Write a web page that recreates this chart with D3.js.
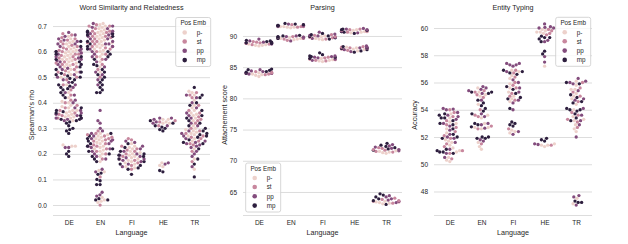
<!DOCTYPE html>
<html>
<head>
<meta charset="utf-8">
<script src="https://cdn.jsdelivr.net/npm/d3@7"></script>
<style>
body { margin: 0; background: #fff; }
svg { display: block; font-family: "Liberation Sans", Arial, sans-serif; }
</style>
</head>
<body>
<script>
// categories
const languages = ["DE", "EN", "FI", "HE", "TR"];
const posEmb = ["p-", "st", "pp", "mp"];

// word similarity (spearman's rho), one array per language / pos emb
const ws_DE_p = [.23,.23,.235,.33,.34,.345,.35,.355,.36,.365,.37,.38,.385,.39,.40,.405,.42,.44,.47,.50,.51,.52,.53,.54,.545,.55,.555,.56,.565,.57,.575,.58,.585,.59,.595,.60,.605,.61,.615,.62,.63,.635,.64,.65,.66,.52,.57,.6,.345,.37];
const ws_DE_st = [.34,.35,.36,.37,.38,.39,.40,.41,.43,.45,.47,.49,.50,.51,.52,.525,.53,.54,.55,.555,.56,.57,.575,.58,.585,.59,.595,.60,.605,.61,.615,.62,.625,.63,.64,.645,.65,.655,.665,.67,.55,.59,.355];
const ws_DE_pp = [.225,.225,.33,.335,.34,.35,.355,.36,.37,.38,.40,.41,.43,.44,.46,.47,.48,.49,.50,.51,.52,.53,.54,.55,.56,.565,.57,.58,.59,.595,.60,.605,.61,.62,.63,.63,.64,.645,.65,.66,.665,.675,.535,.575,.34];
const ws_DE_mp = [.19,.20,.21,.28,.29,.295,.30,.31,.32,.325,.33,.335,.34,.35,.36,.37,.38,.42,.43,.44,.45,.455,.46,.465,.47,.48,.49,.495,.50,.505,.51,.52,.53,.54,.55,.56,.57,.58,.59,.60,.62,.64,.515,.335,.365];
const ws_EN_p = [.01,.015,.02,.03,.13,.135,.17,.19,.20,.21,.215,.22,.225,.23,.24,.245,.25,.255,.26,.265,.27,.275,.28,.52,.54,.56,.58,.59,.60,.605,.61,.615,.62,.625,.63,.635,.64,.645,.65,.655,.66,.665,.67,.675,.68,.685,.69,.695,.70,.705,.71];
const ws_EN_st = [0,.11,.18,.20,.21,.22,.23,.235,.24,.25,.255,.26,.265,.27,.275,.28,.29,.50,.53,.55,.57,.58,.59,.60,.61,.615,.62,.62,.63,.635,.64,.64,.65,.655,.66,.66,.67,.675,.68,.68,.69,.70,.70,.705];
const ws_EN_pp = [.035,.04,.05,.13,.14,.18,.19,.20,.21,.22,.225,.23,.24,.25,.255,.26,.27,.28,.29,.30,.32,.33,.37,.47,.49,.51,.52,.54,.56,.57,.58,.59,.60,.61,.62,.63,.63,.64,.65,.65,.66,.665,.67,.67,.68,.69,.695,.70,.71];
const ws_EN_mp = [.02,.02,.025,.08,.08,.095,.10,.12,.125,.17,.18,.19,.20,.21,.22,.23,.24,.25,.26,.27,.28,.44,.44,.45,.46,.47,.48,.49,.50,.51,.52,.53,.545,.55,.57,.58,.59,.60,.61,.62,.63,.64,.66,.665,.67,.675,.68];
const ws_FI_p = [.145,.15,.16,.165,.17,.175,.18,.185,.19,.195,.20,.205,.21,.22,.225,.23,.24];
const ws_FI_st = [.14,.155,.165,.175,.18,.19,.20,.21,.215,.22,.23,.255,.26];
const ws_FI_pp = [.15,.16,.17,.175,.18,.185,.19,.195,.20,.21,.22,.23,.245,.25];
const ws_FI_mp = [.12,.14,.145,.155,.16,.17,.18,.19,.195,.20,.21,.225,.24];
const ws_HE_p = [.15,.155,.165,.32,.32,.325,.33,.335,.335];
const ws_HE_st = [.31,.325,.33];
const ws_HE_pp = [.16,.165,.31,.32,.325,.335,.34,.34];
const ws_HE_mp = [.13,.135,.29,.295,.30,.305,.31,.32,.33];
const ws_TR_p = [.14,.18,.22,.25,.26,.27,.275,.28,.285,.29,.295,.30,.31,.33,.34,.35,.355,.36,.37,.38,.39,.41,.43,.44,.445];
const ws_TR_st = [.17,.21,.235,.24,.25,.26,.265,.27,.28,.29,.30,.32,.33,.335,.345,.36,.37,.39,.42,.43,.44];
const ws_TR_pp = [.15,.19,.20,.21,.225,.23,.235,.24,.245,.25,.26,.27,.28,.29,.31,.32,.34,.35,.36,.38,.40,.42,.43];
const ws_TR_mp = [.11,.16,.18,.22,.24,.245,.255,.265,.27,.275,.28,.29,.30,.31,.32,.33,.34,.35,.37,.39,.40,.42,.43,.46];

// parsing (attachement score)
const ps_DE_p = [88.4,88.5,88.5,88.6,88.7,88.8,83.5,83.7,83.8,83.9,84.0,84.1];
const ps_DE_st = [88.6,88.8,88.9,89.0,89.1,88.7,83.8,84.0,84.1,84.2,84.3,83.9];
const ps_DE_pp = [88.7,88.9,89.0,89.2,89.5,88.8,83.9,84.1,84.3,84.4,84.6,84.0];
const ps_DE_mp = [88.8,89.0,89.1,89.2,89.3,88.9,84.0,84.2,84.3,84.5,84.6,84.7];
const ps_EN_p = [91.3,91.4,91.5,91.5,91.6,91.4,89.4,89.5,89.6,89.6,89.7,89.8];
const ps_EN_st = [91.4,91.5,91.6,91.7,91.8,91.5,89.5,89.6,89.7,89.8,89.9,89.3];
const ps_EN_pp = [91.5,91.6,91.7,91.8,91.9,91.6,89.6,89.7,89.8,89.9,90.0,89.2];
const ps_EN_mp = [91.6,91.7,91.8,91.9,92.0,91.7,89.7,89.8,89.9,90.0,90.1,89.6];
const ps_FI_p = [89.4,89.5,89.6,89.8,89.9,90.0,85.9,86.0,86.1,86.2,86.3,86.4];
const ps_FI_st = [89.5,89.7,89.8,89.9,90.1,90.2,86.0,86.2,86.3,86.5,86.6,86.1];
const ps_FI_pp = [89.6,89.8,90.0,90.1,90.3,90.6,86.1,86.3,86.5,86.6,86.7,86.8];
const ps_FI_mp = [89.7,89.9,90.0,90.2,90.4,89.5,86.4,86.6,86.7,86.8,87.0,87.3];
const ps_HE_p = [90.5,90.6,90.7,90.8,90.9,91.0,87.6,87.8,87.9,88.0,88.1,88.2];
const ps_HE_st = [90.6,90.7,90.8,90.9,91.0,91.1,87.7,87.9,88.0,88.1,88.2,88.3];
const ps_HE_pp = [90.5,90.7,90.8,91.0,91.1,91.2,87.5,87.8,88.0,88.1,88.2,88.4];
const ps_HE_mp = [90.4,90.6,90.7,90.9,91.0,91.1,87.4,87.6,87.8,88.0,88.1,88.3];
const ps_TR_p = [71.2,71.3,71.4,71.5,71.6,71.8,63.1,63.2,63.3,63.4,63.5,63.6];
const ps_TR_st = [71.4,71.5,71.7,71.8,72.0,72.1,63.2,63.4,63.5,63.6,63.8,64.0];
const ps_TR_pp = [71.6,71.8,72.0,72.2,72.4,72.6,63.3,63.5,63.7,63.9,64.2,64.4];
const ps_TR_mp = [71.7,71.9,72.1,72.3,72.5,72.8,63.0,63.6,63.9,64.2,64.5,64.7];

// entity typing (accuracy)
const et_DE_p = [50.2,50.3,50.5,50.9,51.0,51.2,51.4,51.6,51.7,51.8,52.3,52.6,53.0,53.1,53.4,53.7];
const et_DE_st = [50.4,50.8,51.0,51.3,51.5,51.9,52.1,52.4,52.7,52.9,53.2,53.5,53.8,54.0];
const et_DE_pp = [50.5,50.8,51.1,51.6,51.9,52.0,52.2,52.5,52.8,53.0,53.3,53.5,53.6,53.8,54.0,54.05,54.1];
const et_DE_mp = [50.8,50.9,50.9,51.0,51.1,51.9,52.0,52.2,52.6,52.9,53.0,53.2,53.4,53.4,53.6,53.7];
const et_EN_p = [51.1,51.3,51.6,52.6,52.7,52.7,53.0,53.4,53.6,54.4,55.0,55.1,55.3,55.6];
const et_EN_st = [51.5,52.6,52.8,53.5,53.6,54.0,54.9,55.1,55.3,55.4];
const et_EN_pp = [51.7,51.8,52.65,52.9,53.0,53.5,53.7,54.7,55.2,55.4,55.5,55.6,55.7];
const et_EN_mp = [51.9,51.9,52.0,52.0,52.75,52.9,53.0,53.7,53.9,54.1,54.3,54.5,54.7,55.2,55.3,55.3];
const et_FI_p = [52.3,52.4,52.5,54.6,54.8,55.0,55.3,55.6,55.9,56.3,56.5,56.8,56.9];
const et_FI_st = [52.6,54.7,55.0,55.2,55.6,55.8,56.0,56.4,56.7,56.9];
const et_FI_pp = [52.2,52.4,54.0,54.5,54.7,55.3,55.6,56.0,56.2,56.8,57.2,57.3,57.3,57.4,57.4];
const et_FI_mp = [52.8,52.9,53.0,53.1,54.1,54.8,54.9,55.2,55.5,55.7,56.6,56.7,56.8,56.9];
const et_HE_p = [51.3,51.4,51.4,51.5,57.2,59.6,59.7,59.7,59.8,59.9];
const et_HE_st = [51.4,59.5,59.6,59.8,59.9];
const et_HE_pp = [51.45,51.5,57.5,57.9,59.0,59.1,60.0,60.0,60.05,60.1,60.3];
const et_HE_mp = [51.7,51.8,51.9,58.1,58.3,59.0,59.2,59.3,59.3,59.4];
const et_TR_p = [47.1,47.5,52.4,52.6,52.9,53.2,53.3,53.5,54.0,54.4,54.8,55.0,55.2,55.5,55.5,55.8,56.1];
const et_TR_st = [52.7,53.1,53.3,53.6,53.8,54.6,55.0,55.3,55.6,56.0];
const et_TR_pp = [47.0,47.6,47.7,52.0,52.9,53.2,53.6,54.1,54.7,54.8,55.4,55.9,56.0,56.1,56.3];
const et_TR_mp = [47.2,47.2,47.3,53.2,53.4,53.7,53.9,54.0,54.0,54.1,54.5,54.6,54.9,55.1,55.9,56.0];

// tick values
const wsTicks = [0, 0.1, 0.2, 0.3, 0.4, 0.5, 0.6, 0.7];
const psTicks = [65, 70, 75, 80, 85, 90];
const etTicks = [48, 50, 52, 54, 56, 58, 60];

// seaborn cubehelix_palette(4)
const posColors = ["#edd1cb", "#c8879e", "#834c7d", "#2d1e3e"];

const wordSim = {
    DE: [ws_DE_p, ws_DE_st, ws_DE_pp, ws_DE_mp],
    EN: [ws_EN_p, ws_EN_st, ws_EN_pp, ws_EN_mp],
    FI: [ws_FI_p, ws_FI_st, ws_FI_pp, ws_FI_mp],
    HE: [ws_HE_p, ws_HE_st, ws_HE_pp, ws_HE_mp],
    TR: [ws_TR_p, ws_TR_st, ws_TR_pp, ws_TR_mp]
};
const parsing = {
    DE: [ps_DE_p, ps_DE_st, ps_DE_pp, ps_DE_mp],
    EN: [ps_EN_p, ps_EN_st, ps_EN_pp, ps_EN_mp],
    FI: [ps_FI_p, ps_FI_st, ps_FI_pp, ps_FI_mp],
    HE: [ps_HE_p, ps_HE_st, ps_HE_pp, ps_HE_mp],
    TR: [ps_TR_p, ps_TR_st, ps_TR_pp, ps_TR_mp]
};
const typing = {
    DE: [et_DE_p, et_DE_st, et_DE_pp, et_DE_mp],
    EN: [et_EN_p, et_EN_st, et_EN_pp, et_EN_mp],
    FI: [et_FI_p, et_FI_st, et_FI_pp, et_FI_mp],
    HE: [et_HE_p, et_HE_st, et_HE_pp, et_HE_mp],
    TR: [et_TR_p, et_TR_st, et_TR_pp, et_TR_mp]
};

const W = 628, H = 244;
const plotTop = 14.8, plotBottom = 215;
const r = 1.65, dist = 3.3;
const textColor = "#262626", gridColor = "#dddddd";

const panels = [
    {title: "Word Similarity and Relatedness", ylabel: "Spearman's rho", data: wordSim, ticks: wsTicks, fmt: ".1f",
        x0: 53, x1: 210, dom: [-0.039, 0.744], ylabX: 31.7, legend: [175.7, 17.5]},
    {title: "Parsing", ylabel: "Attachement score", data: parsing, ticks: psTicks, fmt: "d",
        x0: 243, x1: 402, dom: [61.31, 93.39], ylabX: 224.3, legend: [245.7, 163]},
    {title: "Entity Typing", ylabel: "Accuracy", data: typing, ticks: etTicks, fmt: "d",
        x0: 434, x1: 592, dom: [46.275, 60.97], ylabX: 414.7, legend: [555.7, 17.3]}
];

const svg = d3.select("body").append("svg")
    .attr("width", W)
    .attr("height", H);

// beeswarm like seaborn: place sorted points closest to the midline without overlap
function swarm(pts, limit) {
    const placed = [];
    pts.forEach(function (p) {
        const nb = placed.filter(q => Math.abs(q.py - p.py) < dist);
        const cands = [0];
        let leftFirst = true;
        nb.slice().reverse().forEach(function (q) {
            const dy = p.py - q.py;
            const dx = Math.sqrt(Math.max(dist * dist - dy * dy, 0)) * 1.05;
            if (leftFirst) cands.push(q.dx - dx, q.dx + dx);
            else cands.push(q.dx + dx, q.dx - dx);
            leftFirst = !leftFirst;
        });
        cands.sort((a, b) => Math.abs(a) - Math.abs(b));
        const x = cands.find(c => nb.every(q => (q.dx - c) ** 2 + (q.py - p.py) ** 2 >= dist * dist - 1e-6));
        p.dx = x === undefined ? 0 : x;
        placed.push(p);
    });
    // gutters
    pts.forEach(p => { if (Math.abs(p.dx) > limit) p.dx = Math.sign(p.dx) * limit; });
}

panels.forEach(function (p) {
    const y = d3.scaleLinear().domain(p.dom).range([plotBottom, plotTop]);
    const x = d3.scalePoint().domain(languages).range([p.x0, p.x1]).padding(0.5);
    const g = svg.append("g");

    // y grid + ticks
    const yAxis = g.append("g")
        .attr("transform", "translate(" + p.x0 + ",0)")
        .call(d3.axisLeft(y).tickValues(p.ticks).tickFormat(d3.format(p.fmt))
            .tickSize(-(p.x1 - p.x0)).tickPadding(6));
    yAxis.select(".domain").remove();
    yAxis.selectAll("line").attr("stroke", gridColor).attr("stroke-width", 1);
    yAxis.selectAll("text").attr("fill", textColor).style("font-size", "6.5px");

    // x axis (bottom spine)
    const xAxis = g.append("g")
        .attr("transform", "translate(0," + plotBottom + ")")
        .call(d3.axisBottom(x).tickSize(0).tickSizeOuter(0).tickPadding(5.5));
    xAxis.select(".domain").attr("stroke", gridColor).attr("stroke-width", 1)
        .attr("d", "M" + p.x0 + ",0.5H" + p.x1);
    xAxis.selectAll("text").attr("fill", textColor).style("font-size", "6.5px");

    // points
    const band = (p.x1 - p.x0) / languages.length;
    languages.forEach(function (lang) {
        const pts = [];
        p.data[lang].forEach(function (vals, hi) {
            vals.forEach(v => pts.push({v: v, hue: hi, py: y(v)}));
        });
        pts.sort((a, b) => a.v - b.v);
        swarm(pts, band * 0.4);
        g.append("g").selectAll("circle")
            .data(pts)
            .enter()
            .append("circle")
            .attr("cx", d => x(lang) + d.dx)
            .attr("cy", d => d.py)
            .attr("r", r)
            .attr("fill", d => posColors[d.hue]);
    });

    // titles and labels
    g.append("text")
        .attr("x", (p.x0 + p.x1) / 2).attr("y", 10)
        .attr("text-anchor", "middle").attr("fill", textColor)
        .style("font-size", "7.2px").text(p.title);
    g.append("text")
        .attr("x", (p.x0 + p.x1) / 2).attr("y", 234.5)
        .attr("text-anchor", "middle").attr("fill", textColor)
        .style("font-size", "7.2px").text("Language");
    g.append("text")
        .attr("transform", "translate(" + p.ylabX + "," + ((plotTop + plotBottom) / 2) + ") rotate(-90)")
        .attr("dy", "0.35em")
        .attr("text-anchor", "middle").attr("fill", textColor)
        .style("font-size", "7.2px").text(p.ylabel);

    // legend
    const lg = g.append("g").attr("transform", "translate(" + p.legend[0] + "," + p.legend[1] + ")");
    lg.append("rect")
        .attr("width", 35).attr("height", 49).attr("rx", 2)
        .attr("fill", "#fff").attr("fill-opacity", 0.8)
        .attr("stroke", "#cccccc").attr("stroke-width", 0.8);
    lg.append("text")
        .attr("x", 17.5).attr("y", 5.5).attr("dy", "0.35em")
        .attr("text-anchor", "middle").attr("fill", textColor)
        .style("font-size", "6.3px").text("Pos Emb");
    const rows = [15, 24, 33.3, 42.6];
    posEmb.forEach(function (name, i) {
        lg.append("circle")
            .attr("cx", 9).attr("cy", rows[i]).attr("r", 2.3)
            .attr("fill", posColors[i]);
        lg.append("text")
            .attr("x", 21).attr("y", rows[i]).attr("dy", "0.35em")
            .attr("fill", textColor)
            .style("font-size", "6.3px").text(name);
    });
});
</script>
</body>
</html>
